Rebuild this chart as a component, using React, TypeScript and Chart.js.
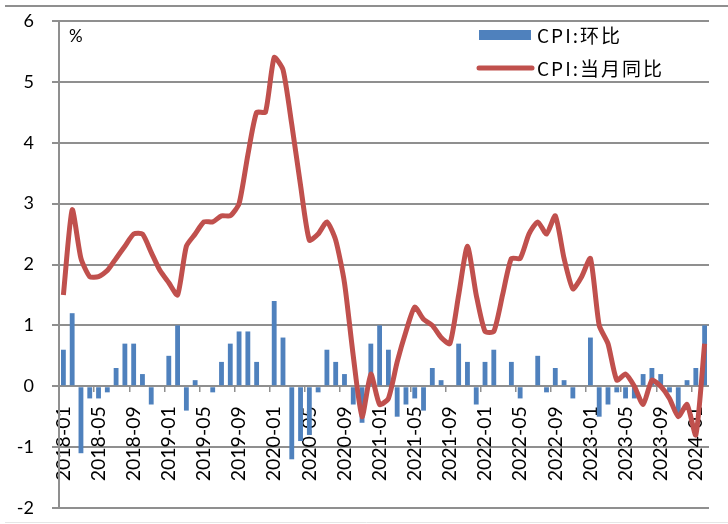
import React, { useEffect, useRef } from "react";
import { Chart, registerables } from "chart.js";

Chart.register(...registerables);

const years = [2018, 2019, 2020, 2021, 2022, 2023];
const months: string[] = [];
for (const y of years) {
  for (let m = 1; m <= 12; m++) months.push(`${y}-${m < 10 ? "0" + m : m}`);
}
months.push("2024-01", "2024-02");
const categories = months;

const momValues = [
  0.6, 1.2, -1.1, -0.2, -0.2, -0.1, 0.3, 0.7, 0.7, 0.2, -0.3, 0.0,
  0.5, 1.0, -0.4, 0.1, 0.0, -0.1, 0.4, 0.7, 0.9, 0.9, 0.4, 0.0,
  1.4, 0.8, -1.2, -0.9, -0.8, -0.1, 0.6, 0.4, 0.2, -0.3, -0.6, 0.7,
  1.0, 0.6, -0.5, -0.3, -0.2, -0.4, 0.3, 0.1, 0.0, 0.7, 0.4, -0.3,
  0.4, 0.6, 0.0, 0.4, -0.2, 0.0, 0.5, -0.1, 0.3, 0.1, -0.2, 0.0,
  0.8, -0.5, -0.3, -0.1, -0.2, -0.2, 0.2, 0.3, 0.2, -0.1, -0.5, 0.1,
  0.3, 1.0,
];

const yoyValues = [
  1.5, 2.9, 2.1, 1.8, 1.8, 1.9, 2.1, 2.3, 2.5, 2.5, 2.2, 1.9,
  1.7, 1.5, 2.3, 2.5, 2.7, 2.7, 2.8, 2.8, 3.0, 3.8, 4.5, 4.5,
  5.4, 5.2, 4.3, 3.3, 2.4, 2.5, 2.7, 2.4, 1.7, 0.5, -0.5, 0.2,
  -0.3, -0.2, 0.4, 0.9, 1.3, 1.1, 1.0, 0.8, 0.7, 1.5, 2.3, 1.5,
  0.9, 0.9, 1.5, 2.1, 2.1, 2.5, 2.7, 2.5, 2.8, 2.1, 1.6, 1.8,
  2.1, 1.0, 0.7, 0.1, 0.2, 0.0, -0.3, 0.1, 0.0, -0.2, -0.5, -0.3,
  -0.8, 0.7,
];

const seriesLabels = ["CPI:环比", "CPI:当月同比"];
const unitLabel = "%";
const yMin = -2;
const yMax = 6;

const BLUE = "#4F81BD";
const RED = "#C0504D";
const GRID = "#8f8f8f";
const FONT = 'Lato, "Open Sans", sans-serif';
const CJK = '"Noto Sans CJK SC", sans-serif';

const decorPlugin = {
  id: "decor",
  beforeDraw(chart: any) {
    const { ctx, width, height } = chart;
    ctx.save();
    ctx.fillStyle = "#ffffff";
    ctx.fillRect(0, 0, width, height);
    ctx.strokeStyle = GRID;
    ctx.lineWidth = 2;
    ctx.beginPath();
    ctx.moveTo(5, 6);
    ctx.lineTo(width, 6);
    ctx.stroke();
    ctx.strokeStyle = "#e6e6e6";
    ctx.lineWidth = 1;
    ctx.beginPath();
    ctx.moveTo(5, height - 1.5);
    ctx.lineTo(width, height - 1.5);
    ctx.stroke();
    ctx.restore();
  },
  afterDraw(chart: any) {
    const { ctx, chartArea } = chart;
    ctx.save();
    ctx.fillStyle = "#000";
    ctx.font = `17px ${FONT}`;
    ctx.textBaseline = "middle";
    ctx.textAlign = "left";
    ctx.fillText(unitLabel, chartArea.left + 10, chartArea.top + 16);
    const ds = chart.data.datasets;
    const lx = 478;
    const rows = [35, 68];
    ctx.font = `19px ${CJK}`;
    try {
      (ctx as any).letterSpacing = "2px";
    } catch (e) {}
    ctx.fillStyle = ds[1].backgroundColor;
    ctx.fillRect(lx + 1, rows[0] - 5, 52, 10);
    ctx.fillStyle = "#000";
    ctx.fillText(ds[1].label, lx + 59, rows[0] + 1);
    ctx.strokeStyle = ds[0].borderColor;
    ctx.lineWidth = 5;
    ctx.lineCap = "round";
    ctx.beginPath();
    ctx.moveTo(lx + 1, rows[1]);
    ctx.lineTo(lx + 54, rows[1]);
    ctx.stroke();
    ctx.fillText(ds[0].label, lx + 59, rows[1] + 1);
    ctx.restore();
  },
};

const zeroPadding = (scale: any) => {
  scale.paddingLeft = 0;
  scale.paddingRight = 0;
  scale.paddingTop = 0;
  scale.paddingBottom = 0;
};

export default function App() {
  const canvasRef = useRef<HTMLCanvasElement | null>(null);

  useEffect(() => {
    document.body.style.margin = "0";
    const canvas = canvasRef.current;
    if (!canvas) return;
    const chart = new Chart(canvas, {
      type: "bar",
      data: {
        labels: categories,
        datasets: [
          {
            type: "line",
            label: seriesLabels[1],
            data: yoyValues,
            borderColor: RED,
            backgroundColor: RED,
            borderWidth: 5,
            pointRadius: 0,
            tension: 0.2,
            order: 0,
          } as any,
          {
            type: "bar",
            label: seriesLabels[0],
            data: momValues,
            backgroundColor: BLUE,
            borderWidth: 0,
            categoryPercentage: 1,
            barPercentage: 0.55,
            order: 1,
          } as any,
        ],
      },
      options: {
        responsive: false,
        animation: false,
        layout: { autoPadding: false, padding: { left: 0, top: 21, right: 19, bottom: 16 } },
        plugins: {
          legend: { display: false },
          tooltip: { enabled: false },
        },
        scales: {
          x: {
            type: "category",
            position: { y: 0 } as any,
            offset: true,
            z: 1,
            afterFit: (scale: any) => {
              scale.height = 0;
              zeroPadding(scale);
            },
            grid: {
              offset: true,
              drawOnChartArea: false,
              drawTicks: true,
              tickLength: 6,
              lineWidth: 1.5,
              color: (c: any) => (c.index % 4 === 0 ? GRID : "rgba(0,0,0,0)"),
            },
            border: { display: false },
            ticks: {
              autoSkip: false,
              minRotation: 90,
              maxRotation: 90,
              padding: 14,
              color: "#000",
              font: { family: FONT, size: 19.5 },
              callback: (_v: any, i: number) => (i % 4 === 0 ? categories[i] : ""),
            },
          },
          y: {
            min: yMin,
            max: yMax,
            afterFit: (scale: any) => {
              scale.width = 59;
              zeroPadding(scale);
            },
            grid: {
              color: GRID,
              lineWidth: 2,
              tickLength: 7,
              drawTicks: true,
            },
            border: { display: true, color: GRID, width: 2 },
            ticks: {
              stepSize: 1,
              padding: 18,
              color: "#000",
              font: { family: FONT, size: 18 },
            },
          },
        },
      },
      plugins: [decorPlugin],
    });
    return () => chart.destroy();
  }, []);

  return (
    <div style={{ width: 728, height: 524 }}>
      <canvas ref={canvasRef} width={728} height={524} />
    </div>
  );
}
